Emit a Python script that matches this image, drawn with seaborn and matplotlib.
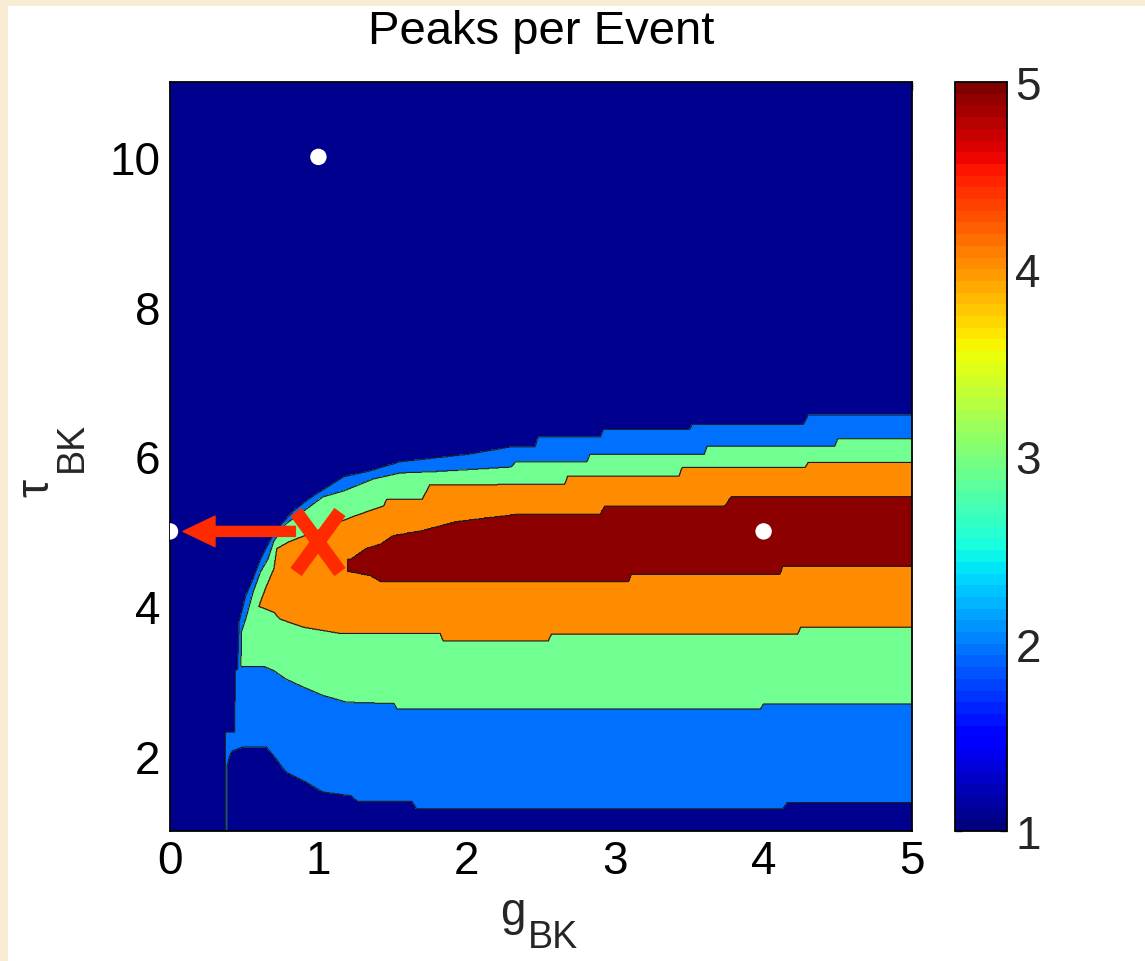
import numpy as np
import matplotlib
matplotlib.use("Agg")
import matplotlib.pyplot as plt
import seaborn as sns
import pandas as pd
from matplotlib.markers import MarkerStyle
from matplotlib.transforms import Affine2D
from matplotlib.patches import Rectangle
from matplotlib.colors import Normalize
import matplotlib.cm as cm

# ---------------- data ----------------
# Region boundaries of "peaks per event" levels, tau_BK as a function of g_BK.
# level >= 2 (blue)
U2_g = [0.372, 0.435, 0.44, 0.455, 0.465, 0.51, 0.56, 0.61, 0.68, 0.74, 0.83, 0.92, 1.01, 1.17,
        1.35, 1.55, 2.01, 2.3, 2.46, 2.48, 2.9, 2.92, 3.5, 3.52, 4.27, 4.3, 5.0]
U2_t = [2.32, 2.32, 3.14, 3.16, 3.79, 4.14, 4.37, 4.63, 4.9, 5.07, 5.27, 5.41, 5.53, 5.73,
        5.81, 5.93, 6.03, 6.13, 6.13, 6.26, 6.26, 6.36, 6.36, 6.43, 6.43, 6.55, 6.55]
L2_g = [0.372, 0.384, 0.386, 0.40, 0.42, 0.49, 0.65, 0.70, 0.78, 0.90, 1.03, 1.22, 1.26, 1.63,
        1.66, 4.13, 4.16, 5.0]
L2_t = [0.9, 0.9, 1.87, 2.0, 2.07, 2.12, 2.12, 2.0, 1.79, 1.67, 1.52, 1.47, 1.4, 1.4,
        1.3, 1.3, 1.38, 1.38]
# level >= 3 (green)
U3_g = [0.478, 0.482, 0.51, 0.56, 0.61, 0.66, 0.70, 0.78, 0.90, 1.03, 1.17, 1.37, 1.55, 1.8,
        2.3, 2.33, 2.81, 2.83, 3.6, 3.62, 4.48, 4.5, 5.0]
U3_t = [3.2, 3.66, 3.83, 4.19, 4.46, 4.63, 4.87, 5.1, 5.27, 5.46, 5.54, 5.7, 5.78, 5.8,
        5.86, 5.93, 5.93, 6.03, 6.03, 6.14, 6.14, 6.24, 6.24]
L3_g = [0.478, 0.63, 0.70, 0.78, 0.90, 1.03, 1.19, 1.51, 1.53, 3.98, 4.0, 5.0]
L3_t = [3.2, 3.2, 3.14, 3.03, 2.92, 2.81, 2.72, 2.7, 2.63, 2.63, 2.70, 2.70]
# level >= 4 (orange)
U4_g = [0.60, 0.61, 0.65, 0.70, 0.72, 0.80, 1.25, 1.44, 1.46, 1.70, 1.75, 2.66, 2.68, 3.43,
        3.45, 4.28, 4.3, 5.0]
U4_t = [4.0, 4.06, 4.27, 4.5, 4.77, 4.86, 5.21, 5.34, 5.43, 5.43, 5.62, 5.63, 5.74, 5.74,
        5.85, 5.85, 5.92, 5.92]
L4_g = [0.60, 0.61, 0.70, 0.74, 0.90, 1.14, 1.82, 1.84, 2.55, 2.57, 4.23, 4.25, 5.0]
L4_t = [4.0, 3.99, 3.92, 3.83, 3.72, 3.64, 3.64, 3.54, 3.54, 3.63, 3.63, 3.72, 3.72]
# level 5 (dark red)
U5_g = [1.196, 1.2, 1.22, 1.32, 1.42, 1.5, 1.7, 1.93, 2.35, 2.9, 2.93, 3.74, 3.78, 5.0]
U5_t = [4.46, 4.63, 4.63, 4.77, 4.83, 4.94, 5.01, 5.13, 5.23, 5.23, 5.34, 5.34, 5.46, 5.46]
L5_g = [1.196, 1.22, 1.35, 1.42, 3.09, 3.11, 4.11, 4.13, 5.0]
L5_t = [4.46, 4.46, 4.41, 4.33, 4.33, 4.43, 4.43, 4.54, 4.54]

level_values = [1, 2, 3, 4, 5]
fill_colors = ["#00008F", "#0070FF", "#70FF90", "#FF8C00", "#8C0000"]

# white marker points
dot_g = [1, 0, 4]
dot_t = [10, 5, 5]
# red cross and arrow
cross_g = [1.0]
cross_t = [4.86]
arrow_tail = (0.845, 5.0)
arrow_tip = (0.088, 5.0)

x_ticks = [0, 1, 2, 3, 4, 5]
y_ticks = [2, 4, 6, 8, 10]
cbar_ticks = [1, 2, 3, 4, 5]
title = "Peaks per Event"

# ---------------- style ----------------
sns.set_style("white")
plt.rcParams["font.family"] = ["Liberation Sans", "DejaVu Sans"]

W, H = 1145, 962
fig = plt.figure(figsize=(W / 100, H / 100), dpi=100, facecolor="#F8ECD4")
fig.add_artist(Rectangle((8 / W, 0), 1, 1 - 7 / H, transform=fig.transFigure,
                         facecolor="white", edgecolor="none", zorder=-5))

ax = fig.add_axes([170 / W, 1 - 832 / H, (912 - 170) / W, (832 - 83) / H])

# ---------------- build the level field ----------------
g = np.linspace(0, 5, 1201)
t = np.linspace(1, 11, 1201)
G, T = np.meshgrid(g, t)


def band(lo_g, lo_t, hi_g, hi_t):
    start = max(lo_g[0], hi_g[0])
    lo = np.interp(g, lo_g, lo_t)
    hi = np.interp(g, hi_g, hi_t)
    return ((G >= start) & (T >= lo[None, :]) & (T <= hi[None, :])).astype(float)


Z = np.ones_like(G)
Z += band(L2_g, L2_t, U2_g, U2_t)
Z += band(L3_g, L3_t, U3_g, U3_t)
Z += band(L4_g, L4_t, U4_g, U4_t)
Z += band(L5_g, L5_t, U5_g, U5_t)

bounds = [v - 0.5 for v in level_values] + [level_values[-1] + 0.5]
ax.contourf(G, T, Z, levels=bounds, colors=fill_colors, zorder=1)
ax.contour(G, T, Z, levels=bounds[1:-1], colors="#1c1c1c", linewidths=0.8, zorder=2)

# white points
dots = pd.DataFrame({"g": dot_g, "tau": dot_t})
sns.scatterplot(data=dots, x="g", y="tau", ax=ax, color="white", s=140,
                edgecolor="none", zorder=5, legend=False)

# arrow and cross
red = "#FF2A00"
ax.annotate("", xy=arrow_tip, xytext=arrow_tail,
            arrowprops=dict(arrowstyle="simple,head_length=1.15,head_width=1.1,tail_width=0.36",
                            color=red, mutation_scale=20, shrinkA=0, shrinkB=0), zorder=6)
xmark = MarkerStyle("x", transform=Affine2D().scale(0.733, 1.0), capstyle="butt")
ax.plot(cross_g, cross_t, linestyle="none", marker=xmark, markersize=43,
        markeredgewidth=10, color=red, zorder=7)

# ---------------- axes ----------------
ax.set_xlim(0, 5)
ax.set_ylim(1, 11)
ax.set_xticks(x_ticks)
ax.set_yticks(y_ticks)
ax.set_xlabel("")
ax.set_ylabel("")
ax.tick_params(direction="in", top=True, right=True, length=6, width=1.0,
               labelsize=33, color="black", labelcolor="black")
ax.tick_params(axis="x", pad=6)
ax.tick_params(axis="y", pad=7)
for sp in ax.spines.values():
    sp.set_visible(True)
    sp.set_color("black")
    sp.set_linewidth(1.3)
ax.set_title(title, fontsize=34, pad=28, color="black")

# axis labels with subscripts
fig.text(500 / W, 1 - 925 / H, "g", fontsize=33, ha="left", va="baseline")
fig.text(528 / W, 1 - 948 / H, "BK", fontsize=27, ha="left", va="baseline")
fig.text(48 / W, 1 - 497 / H, "τ", fontsize=33, ha="left", va="baseline",
         rotation=90, rotation_mode="anchor")
fig.text(82 / W, 1 - 472 / H, "BK", fontsize=27, ha="left", va="baseline",
         rotation=90, rotation_mode="anchor")

# ---------------- colorbar ----------------
cax = fig.add_axes([955 / W, 1 - 832 / H, 52 / W, (832 - 83) / H])
sm = cm.ScalarMappable(norm=Normalize(1, 5), cmap=plt.get_cmap("jet", 64))
cb = fig.colorbar(sm, cax=cax, ticks=cbar_ticks)
cb.outline.set_linewidth(1.3)
cb.outline.set_edgecolor("black")
cax.tick_params(direction="in", left=True, right=True, length=5, width=1.0,
                labelsize=33, pad=6)

fig.savefig("out.png", dpi=100, facecolor=fig.get_facecolor())
